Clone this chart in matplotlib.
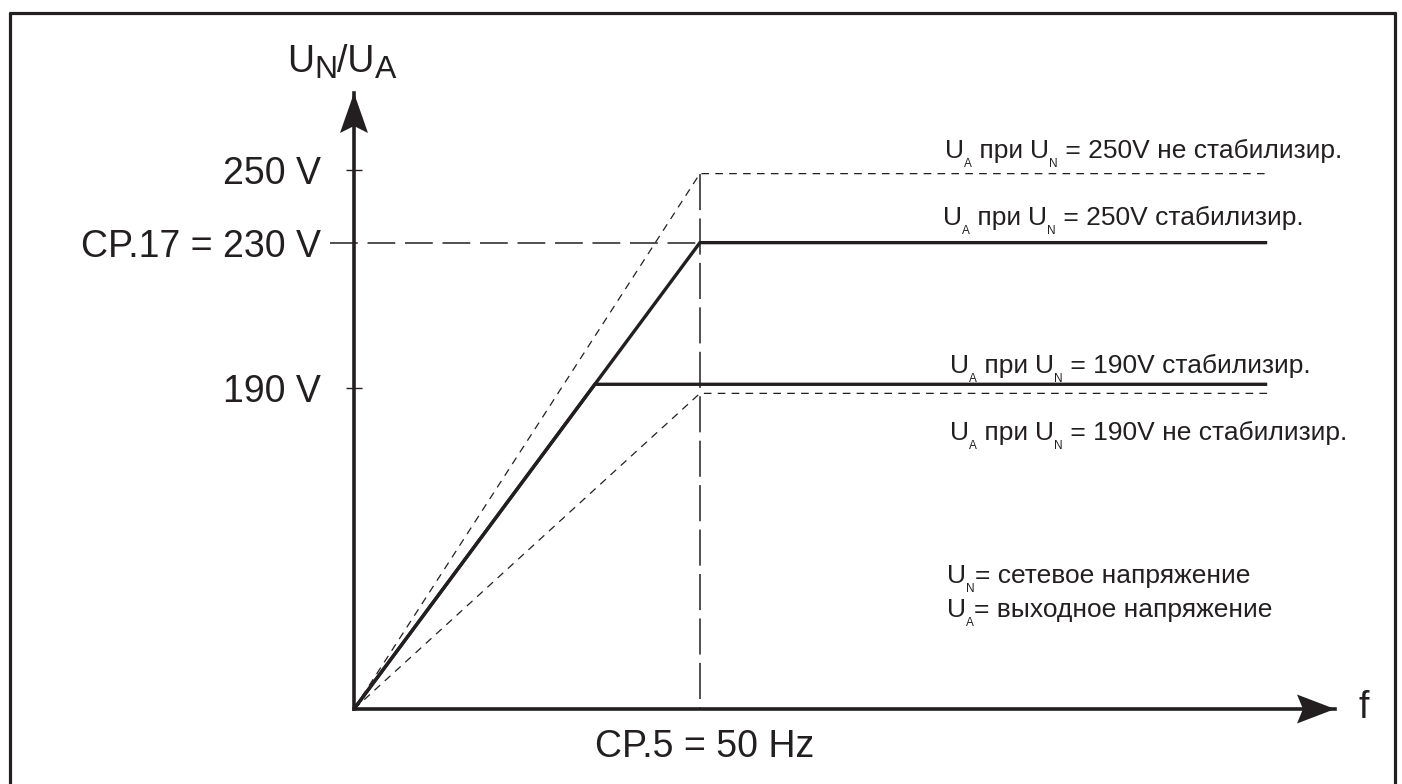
import matplotlib
matplotlib.use('Agg')
import matplotlib.pyplot as plt
from matplotlib.patches import Polygon
from matplotlib.lines import Line2D
from matplotlib.transforms import ScaledTranslation

plt.rcParams['font.family'] = ['Liberation Sans', 'DejaVu Sans']
plt.rcParams['lines.scale_dashes'] = False

INK = '#231f20'

# ---------------- data ----------------
f_nominal = 50.0                 # CP.5 = 50 Hz
f_end = 132.0                    # end of plateau lines
f_axis_max = 141.8
v_axis_min = 101.6
v_axis_max = 271.2
v_setpoint = 230                 # CP.17
v_stab = [230, 191]              # stabilized output levels (250V / 190V mains)
v_unstab = [249, 188.5]          # non-stabilized output levels (250V / 190V mains)
v_tick_values = [250, 230, 190]
v_tick_labels = ['250 V', 'CP.17 = 230 V', '190 V']
f_tick_label = 'CP.5 = 50 Hz'
stab_texts = [' = 250V стабилизир.', ' = 190V стабилизир.']
unstab_texts = [' = 250V не стабилизир.', ' = 190V не стабилизир.']
legend_texts = [('N', '= сетевое напряжение'), ('A', '= выходное напряжение')]

# ---------------- figure ----------------
W, H = 1402, 784
fig = plt.figure(figsize=(W / 100, H / 100), dpi=100)
fig.patch.set_facecolor('white')
x0, x1, yb, yt = 354, 1335, 709, 93
ax = fig.add_axes([x0 / W, 1 - yb / H, (x1 - x0) / W, (yb - yt) / H])
ax.set_xlim(0, f_axis_max)
ax.set_ylim(v_axis_min, v_axis_max)
ax.axis('off')

# frame around the picture
for xs, ys in [([9.5, 9.5], [H, 11.5]), ([8.5, 1395.5], [12.5, 12.5]), ([1394.5, 1394.5], [11.5, H])]:
    fig.add_artist(Line2D([x / W for x in xs], [1 - y / H for y in ys],
                          transform=fig.transFigure, color=INK, lw=2.3,
                          solid_capstyle='butt'))

# axes lines
ax.plot([0, f_axis_max], [v_axis_min, v_axis_min], color=INK, lw=2.6,
        solid_capstyle='projecting', clip_on=False)
ax.plot([0, 0], [v_axis_min, v_axis_max], color=INK, lw=2.6,
        solid_capstyle='projecting', clip_on=False)


def arrow_head(xd, yd, verts_px):
    tr = fig.dpi_scale_trans + ScaledTranslation(xd, yd, ax.transData)
    p = Polygon([(vx / 100, vy / 100) for vx, vy in verts_px], closed=True,
                transform=tr, facecolor=INK, edgecolor='none', clip_on=False)
    fig.add_artist(p)


arrow_head(f_axis_max, v_axis_min, [(0, 0), (-38, 14.5), (-32, 0), (-38, -14.5)])
arrow_head(0, v_axis_max, [(0, 0), (-14, -40), (0, -33), (14, -40)])

# guide lines (long dashes)
ax.plot([-3.5, f_nominal], [v_setpoint, v_setpoint], color=INK, lw=1.1,
        dashes=(20, 7), clip_on=False)
ax.plot([f_nominal, f_nominal], [v_unstab[0], v_axis_min], color=INK, lw=1.1,
        dashes=(26, 6), clip_on=False)

# y tick marks
for v in [v_tick_values[0], v_tick_values[2]]:
    ax.plot([0], [v], marker='_', markersize=12, mew=1.0, color=INK, clip_on=False)

# non-stabilized (short dashes)
for v in v_unstab:
    ax.plot([0, f_nominal, f_end], [v_axis_min, v, v], color=INK, lw=0.9,
            dashes=(5.5, 4.5), clip_on=False)

# stabilized (solid)
for v in v_stab:
    knee = f_nominal * (v - v_axis_min) / (v_setpoint - v_axis_min)
    ax.plot([0, knee, f_end], [v_axis_min, v, v], color=INK, lw=2.4,
            solid_joinstyle='miter', solid_capstyle='butt', clip_on=False)

# tick labels
for v, lab in zip(v_tick_values, v_tick_labels):
    ax.annotate(lab, xy=(0, v), xytext=(-33, 0), textcoords='offset pixels',
                ha='right', va='center_baseline', fontsize=27, color=INK,
                annotation_clip=False)
ax.annotate(f_tick_label, xy=(f_nominal, v_axis_min), xytext=(5, -48),
            textcoords='offset pixels', ha='center', va='baseline', fontsize=27,
            color=INK, annotation_clip=False)
ax.annotate('f', xy=(f_axis_max, v_axis_min), xytext=(23, -9),
            textcoords='offset pixels', ha='left', va='baseline', fontsize=27,
            color=INK, annotation_clip=False)

renderer = fig.canvas.get_renderer()


def text_width(s, size):
    t1 = fig.text(0, 0, '|' + s + '|', fontsize=size)
    t2 = fig.text(0, 0, '||', fontsize=size)
    w = t1.get_window_extent(renderer).width - t2.get_window_extent(renderer).width
    t1.remove()
    t2.remove()
    return w


def rich_text(x, y, pieces):
    cx = x
    for s, size, dy in pieces:
        fig.text(cx / W, 1 - (y + dy) / H, s, fontsize=size, color=INK,
                 ha='left', va='baseline')
        cx += text_width(s, size)


# axis title
rich_text(287, 72, [('U', 27, 0), ('N', 23, 6), ('/U', 27, 0), ('A', 23, 6)])

S, SS, DY = 19, 8.5, 9


def ua_un(label):
    return [('U', S, 0), ('A', SS, DY), (' при ', S, 0), ('U', S, 0), ('N', SS, DY),
            (label, S, 0)]


rich_text(945, 158, ua_un(unstab_texts[0]))
rich_text(943, 225, ua_un(stab_texts[0]))
rich_text(950, 373, ua_un(stab_texts[1]))
rich_text(950, 440, ua_un(unstab_texts[1]))

rich_text(947, 583, [('U', S, 0), (legend_texts[0][0], SS, DY), (legend_texts[0][1], S, 0)])
rich_text(947, 617, [('U', S, 0), (legend_texts[1][0], SS, DY), (legend_texts[1][1], S, 0)])

fig.savefig('out.png', dpi=100, facecolor='white')
